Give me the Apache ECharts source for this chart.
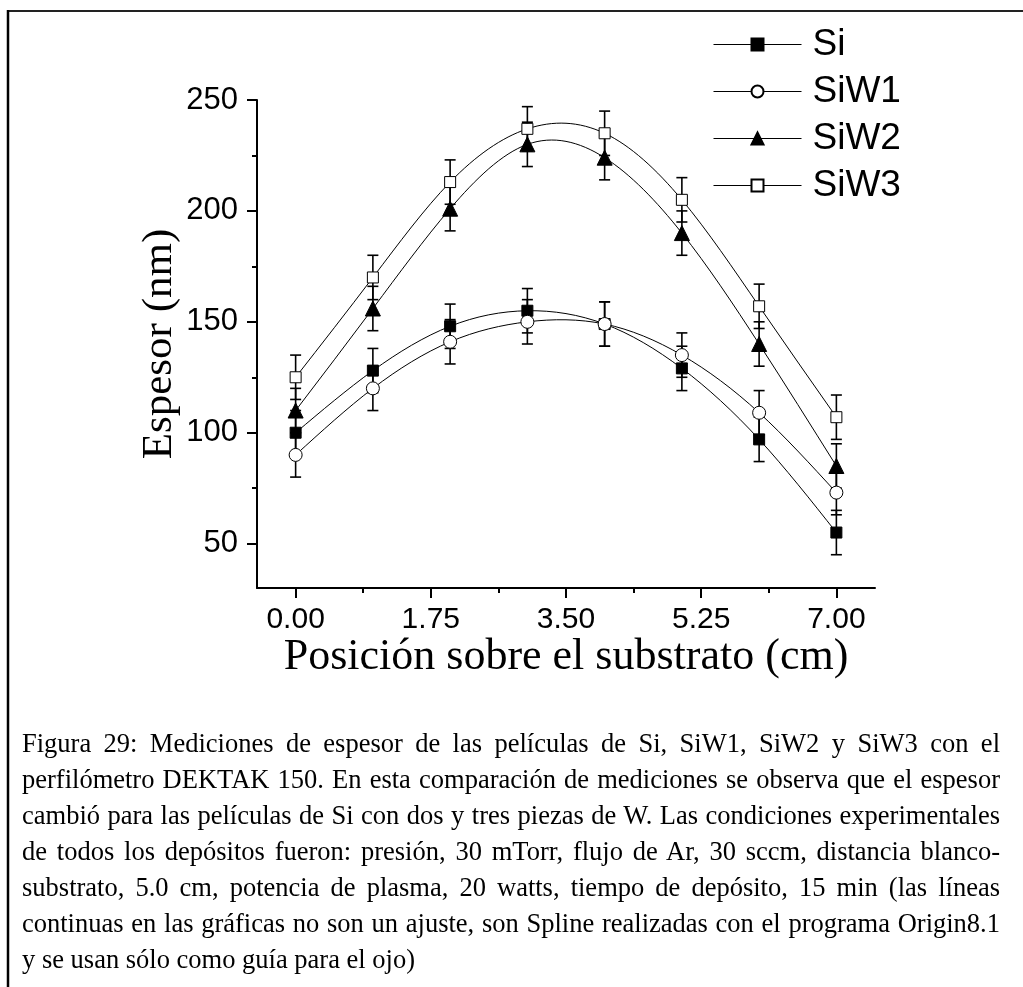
<!DOCTYPE html>
<html><head><meta charset="utf-8">
<script src="https://cdn.jsdelivr.net/npm/echarts@6/dist/echarts.min.js"></script>
<style>
html,body{margin:0;padding:0;background:#fff;width:1023px;height:987px;overflow:hidden;}
#chart{position:absolute;left:0;top:0;width:1023px;height:987px;}
#caption{position:absolute;left:22px;top:725px;width:978px;font-family:'Liberation Serif','Times New Roman',serif;font-size:26.5px;line-height:36px;color:#000;}
#caption div{text-align:justify;text-align-last:justify;}
#caption div.last{text-align-last:left;}
</style></head><body>
<div id="chart"></div>
<div id="caption">
<div>Figura 29: Mediciones de espesor de las películas de Si, SiW1, SiW2 y SiW3 con el</div>
<div>perfilómetro DEKTAK 150. En esta comparación de mediciones se observa que el espesor</div>
<div>cambió para las películas de Si con dos y tres piezas de W. Las condiciones experimentales</div>
<div>de todos los depósitos fueron: presión, 30 mTorr, flujo de Ar, 30 sccm, distancia blanco-</div>
<div>substrato, 5.0 cm, potencia de plasma, 20 watts, tiempo de depósito, 15 min (las líneas</div>
<div>continuas en las gráficas no son un ajuste, son Spline realizadas con el programa Origin8.1</div>
<div class="last">y se usan sólo como guía para el ojo)</div>
</div>
<script>
// ---- data ----
const positions = [0, 1, 2, 3, 4, 5, 6, 7];
const siValues   = [100, 128, 148, 155, 149, 129, 97, 55];
const siW1Values = [90, 120, 141, 150, 149, 135, 109, 73];
const siW2Values = [110, 156, 201, 230, 224, 190, 140, 85];
const siW3Values = [125, 170, 213, 237, 235, 205, 157, 107];
const siErr   = [10, 10, 10, 10, 10, 10, 10, 10];
const siW1Err = [10, 10, 10, 10, 10, 10, 10, 10];
const siW2Err = [10, 10, 10, 10, 10, 10, 10, 10];
const siW3Err = [10, 10, 10, 10, 10, 10, 10, 10];
const seriesNames = ['Si', 'SiW1', 'SiW2', 'SiW3'];
const xMajorTicks = [0, 1.75, 3.5, 5.25, 7];
const xMinorTicks = [0.875, 2.625, 4.375, 6.125];
const yMajorTicks = [50, 100, 150, 200, 250];
const yMinorTicks = [75, 125, 175, 225];
const xRange = [-0.5, 7.5];
const yRange = [30, 250];
const xTitle = 'Posición sobre el substrato (cm)';
const yTitle = 'Espesor (nm)';

const chart = echarts.init(document.getElementById('chart'), null, {renderer: 'canvas'});
const gridBox = {left: 257, top: 100, right: 148, bottom: 399};
const sans = "'Liberation Sans', Arial, sans-serif";
const serif = "'Liberation Serif', 'Times New Roman', serif";

function pts(vals) { return positions.map((x, i) => [x, vals[i]]); }

// natural cubic spline slopes at the knots (used only to shape the drawn curve)
function splineSlopes(xs, ys) {
  const n = xs.length, h = [], c = new Array(n).fill(0), l = [1], mu = [0], z = [0];
  for (let i = 0; i < n - 1; i++) h[i] = xs[i + 1] - xs[i];
  for (let i = 1; i < n - 1; i++) {
    const a = 3 / h[i] * (ys[i + 1] - ys[i]) - 3 / h[i - 1] * (ys[i] - ys[i - 1]);
    l[i] = 2 * (xs[i + 1] - xs[i - 1]) - h[i - 1] * mu[i - 1];
    mu[i] = h[i] / l[i];
    z[i] = (a - h[i - 1] * z[i - 1]) / l[i];
  }
  const b = [], d = [];
  for (let j = n - 2; j >= 0; j--) {
    c[j] = z[j] - mu[j] * c[j + 1];
    b[j] = (ys[j + 1] - ys[j]) / h[j] - h[j] * (c[j + 1] + 2 * c[j]) / 3;
    d[j] = (c[j + 1] - c[j]) / (3 * h[j]);
  }
  const m = n - 2;
  b[n - 1] = b[m] + 2 * c[m] * h[m] + 3 * d[m] * h[m] * h[m];
  return b;
}

function splineSeries(vals) {
  const slopes = splineSlopes(positions, vals);
  return {
    type: 'custom', silent: true, z: 2, xAxisIndex: 0, yAxisIndex: 0,
    data: pts(vals), encode: {x: 0, y: 1},
    renderItem: function (params, api) {
      const i = params.dataIndex;
      if (i >= positions.length - 1) return null;
      const x0 = positions[i], x1 = positions[i + 1], hh = (x1 - x0) / 3;
      const y0 = vals[i], y1 = vals[i + 1];
      const p0 = api.coord([x0, y0]);
      const p1 = api.coord([x1, y1]);
      const c0 = api.coord([x0 + hh, y0 + slopes[i] * hh]);
      const c1 = api.coord([x1 - hh, y1 - slopes[i + 1] * hh]);
      return {
        type: 'bezierCurve',
        shape: {x1: p0[0], y1: p0[1], x2: p1[0], y2: p1[1], cpx1: c0[0], cpy1: c0[1], cpx2: c1[0], cpy2: c1[1]},
        style: {stroke: '#000', lineWidth: 1, fill: null}
      };
    }
  };
}

function errSeries(vals, errs) {
  return {
    type: 'custom', silent: true, z: 1, xAxisIndex: 0, yAxisIndex: 0,
    data: positions.map((x, i) => [x, vals[i], errs[i]]),
    encode: {x: 0, y: 1},
    renderItem: function (params, api) {
      const x = api.value(0), y = api.value(1), e = api.value(2);
      const top = api.coord([x, y + e]);
      const bot = api.coord([x, y - e]);
      const hw = 5.5;
      const style = {stroke: '#000', lineWidth: 1.6};
      return {type: 'group', children: [
        {type: 'line', shape: {x1: top[0], y1: top[1], x2: bot[0], y2: bot[1]}, style: style},
        {type: 'line', shape: {x1: top[0] - hw, y1: top[1], x2: top[0] + hw, y2: top[1]}, style: style},
        {type: 'line', shape: {x1: bot[0] - hw, y1: bot[1], x2: bot[0] + hw, y2: bot[1]}, style: style}
      ]};
    }
  };
}
function markerSeries(name, vals, symbol, size, fill) {
  return {
    type: 'line', name: name, data: pts(vals), z: 3,
    symbol: symbol, symbolSize: size, showAllSymbol: true,
    lineStyle: {color: 'rgba(0,0,0,0)', width: 1},
    itemStyle: {color: fill, borderColor: '#000', borderWidth: 1},
    emphasis: {disabled: true}
  };
}

const option = {
  animation: false,
  backgroundColor: '#fff',
  grid: [
    Object.assign({outerBoundsMode: 'none'}, gridBox),
    Object.assign({outerBoundsMode: 'none'}, gridBox)
  ],
  xAxis: [
    {
      type: 'value', gridIndex: 0, min: xRange[0], max: xRange[1],
      splitLine: {show: false},
      axisLine: {show: true, onZero: false, lineStyle: {color: '#000', width: 2}},
      axisTick: {show: true, customValues: xMajorTicks, length: 10, lineStyle: {color: '#000', width: 2}},
      axisLabel: {customValues: xMajorTicks, margin: 17, color: '#000', fontFamily: sans, fontSize: 30,
        formatter: v => Number(v).toFixed(2)},
      name: xTitle, nameLocation: 'middle', nameGap: 47, nameMoveOverlap: false,
      nameTextStyle: {fontFamily: serif, fontSize: 44, color: '#000'}
    },
    {
      type: 'value', gridIndex: 1, min: xRange[0], max: xRange[1],
      splitLine: {show: false}, axisLine: {show: false, onZero: false},
      axisTick: {show: true, customValues: xMinorTicks, length: 5, lineStyle: {color: '#000', width: 2}},
      axisLabel: {show: false}
    }
  ],
  yAxis: [
    {
      type: 'value', gridIndex: 0, min: yRange[0], max: yRange[1],
      splitLine: {show: false},
      axisLine: {show: true, onZero: false, lineStyle: {color: '#000', width: 2}},
      axisTick: {show: true, customValues: yMajorTicks, length: 10, lineStyle: {color: '#000', width: 2}},
      axisLabel: {customValues: yMajorTicks, margin: 19, color: '#000', fontFamily: sans, fontSize: 31},
      name: yTitle, nameLocation: 'middle', nameGap: 76, nameRotate: 90, nameMoveOverlap: false,
      nameTextStyle: {fontFamily: serif, fontSize: 43, color: '#000'}
    },
    {
      type: 'value', gridIndex: 1, min: yRange[0], max: yRange[1],
      splitLine: {show: false}, axisLine: {show: false, onZero: false},
      axisTick: {show: true, customValues: yMinorTicks, length: 5, lineStyle: {color: '#000', width: 2}},
      axisLabel: {show: false}
    }
  ],
  legend: {
    data: seriesNames, orient: 'vertical', left: 708, top: 21,
    itemWidth: 88, itemHeight: 15, itemGap: 10,
    selectedMode: false,
    lineStyle: {color: '#000', width: 1, opacity: 1},
    textStyle: {fontFamily: sans, fontSize: 37, color: '#000', padding: [0, 0, 0, 6]}
  },
  graphic: [
    {type: 'line', shape: {x1: 8, y1: 11, x2: 1023, y2: 11}, style: {stroke: '#222', lineWidth: 2}, silent: true},
    {type: 'line', shape: {x1: 8, y1: 10, x2: 8, y2: 987}, style: {stroke: '#000', lineWidth: 2.5}, silent: true}
  ],
  series: [
    errSeries(siValues, siErr),
    errSeries(siW1Values, siW1Err),
    errSeries(siW2Values, siW2Err),
    errSeries(siW3Values, siW3Err),
    splineSeries(siValues),
    splineSeries(siW1Values),
    splineSeries(siW2Values),
    splineSeries(siW3Values),
    markerSeries(seriesNames[0], siValues, 'rect', 11, '#000'),
    markerSeries(seriesNames[1], siW1Values, 'circle', 13, '#fff'),
    markerSeries(seriesNames[2], siW2Values, 'triangle', 15, '#000'),
    markerSeries(seriesNames[3], siW3Values, 'rect', 11, '#fff')
  ]
};
chart.setOption(option);
</script>
</body></html>
